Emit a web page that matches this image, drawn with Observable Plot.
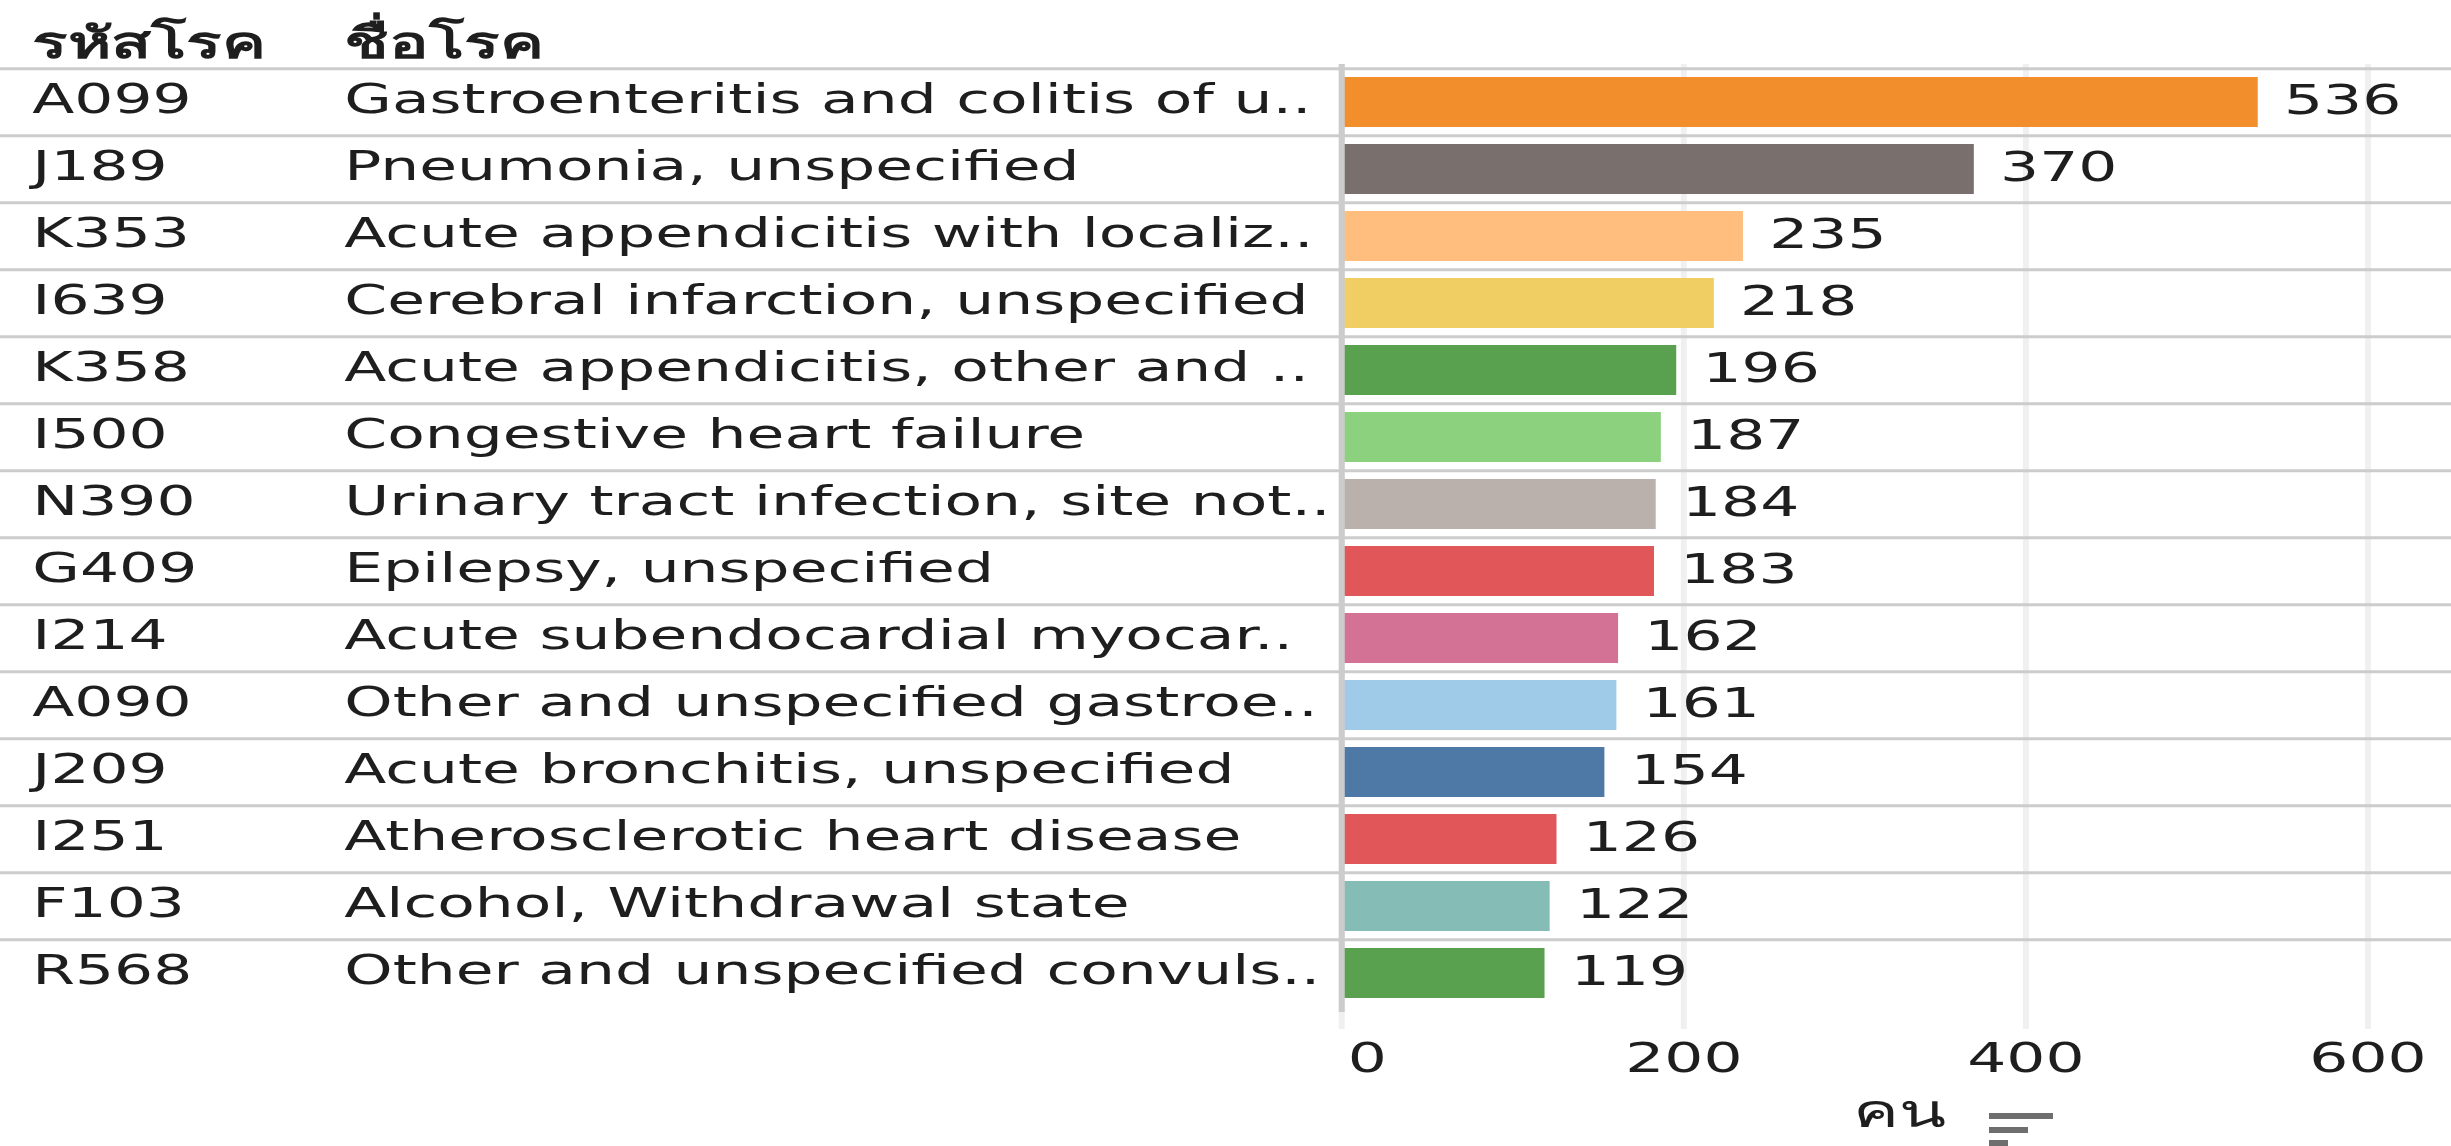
<!DOCTYPE html>
<html>
<head>
<meta charset="utf-8">
<script src="https://cdn.jsdelivr.net/npm/d3@7"></script>
<script src="https://cdn.jsdelivr.net/npm/@observablehq/plot@0.6"></script>
<style>
  html, body { margin: 0; padding: 0; background: #fff; overflow: hidden; }
  #wrap { position: relative; width: 2451px; height: 1146px; }
  .sorticon { position: absolute; background: #6e6e6e; height: 6px; }
</style>
</head>
<body>
<div id="wrap"></div>
<script>
// ---- data ----
const headers = ["รหัสโรค", "ชื่อโรค"];
const codes = ["A099", "J189", "K353", "I639", "K358", "I500", "N390", "G409", "I214", "A090", "J209", "I251", "F103", "R568"];
const names = [
  "Gastroenteritis and colitis of u..",
  "Pneumonia, unspecified",
  "Acute appendicitis with localiz..",
  "Cerebral infarction, unspecified",
  "Acute appendicitis, other and ..",
  "Congestive heart failure",
  "Urinary tract infection, site not..",
  "Epilepsy, unspecified",
  "Acute subendocardial myocar..",
  "Other and unspecified gastroe..",
  "Acute bronchitis, unspecified",
  "Atherosclerotic heart disease",
  "Alcohol, Withdrawal state",
  "Other and unspecified convuls.."
];
const values = [536, 370, 235, 218, 196, 187, 184, 183, 162, 161, 154, 126, 122, 119];
const colors = ["#f28e2b", "#79706e", "#ffbe7d", "#f1ce63", "#59a14f", "#8cd17d", "#bab0ac", "#e15759", "#d37295", "#a0cbe8", "#4e79a7", "#e15759", "#86bcb6", "#59a14f"];
const xTicks = [0, 200, 400, 600];
const axisTitle = "คน";

const rows = codes.map((c, i) => ({code: c, name: names[i], value: values[i]}));

// ---- layout ----
const W = 2451, H = 1146;
const SX = 1.5;               // horizontal stretch of the original picture
const LW = W / SX;            // logical svg width
const mLeft = 894, mTop = 64, mBottom = 134;
const step = (H - mTop - mBottom) / codes.length;

const chart = Plot.plot({
  width: LW,
  height: H,
  marginLeft: mLeft,
  marginRight: 0,
  marginTop: mTop,
  marginBottom: mBottom,
  x: {domain: [0, 649]},
  y: {domain: codes, axis: null, paddingInner: 0.25, paddingOuter: 0.125},
  color: {domain: codes, range: colors},
  style: {fontFamily: "Tahoma, 'DejaVu Sans', 'Noto Sans', sans-serif", fontSize: "41px", color: "#222", background: "white"},
  marks: [
    Plot.ruleX(xTicks, {stroke: "#f0f0f0", strokeWidth: 4, insetBottom: -17}),
    Plot.barX(rows, {x: "value", y: "code", fill: "code"}),
    Plot.ruleY(rows, {y: "code", dy: -step / 2, insetLeft: -mLeft, stroke: "#cccccc", strokeWidth: 3}),
    Plot.ruleX([0], {stroke: "#cccccc", strokeWidth: 4}),
    Plot.text(rows, {y: "code", text: "code", frameAnchor: "left", textAnchor: "start", dx: 21 - mLeft, dy: -3, fill: "#1e1e1e"}),
    Plot.text(rows, {y: "code", text: "name", frameAnchor: "left", textAnchor: "start", dx: 229 - mLeft, dy: -3, fill: "#1e1e1e"}),
    Plot.text(rows, {x: "value", y: "code", text: d => String(d.value), textAnchor: "start", dx: 17, dy: -2, fill: "#1e1e1e"}),
    Plot.axisX(xTicks.slice(0, 1), {tickSize: 0, tickPadding: 30, textAnchor: "start", dx: 4, label: null, fill: "#1e1e1e"}),
    Plot.axisX(xTicks.slice(1), {tickSize: 0, tickPadding: 30, label: null, fill: "#1e1e1e"}),
    Plot.text([headers[0]], {frameAnchor: "top-left", textAnchor: "start", dx: 21 - mLeft, dy: -38, fontSize: 44, fontWeight: "bold", fill: "#1e1e1e"}),
    Plot.text([headers[1]], {frameAnchor: "top-left", textAnchor: "start", dx: 229 - mLeft, dy: -38, fontSize: 44, fontWeight: "bold", fill: "#1e1e1e"}),
    Plot.text([axisTitle], {frameAnchor: "bottom", dy: 114, dx: 2, fontSize: 46, fill: "#1e1e1e"})
  ]
});

chart.setAttribute("preserveAspectRatio", "none");
chart.style.width = W + "px";
chart.style.height = H + "px";
chart.style.maxWidth = "none";
const wrap = document.getElementById("wrap");
wrap.appendChild(chart);

// sort indicator next to the axis title
[[1113, 64], [1127, 39], [1140, 19]].forEach(([top, w]) => {
  const d = document.createElement("div");
  d.className = "sorticon";
  d.style.left = "1989px";
  d.style.top = top + "px";
  d.style.width = w + "px";
  wrap.appendChild(d);
});
</script>
</body>
</html>
